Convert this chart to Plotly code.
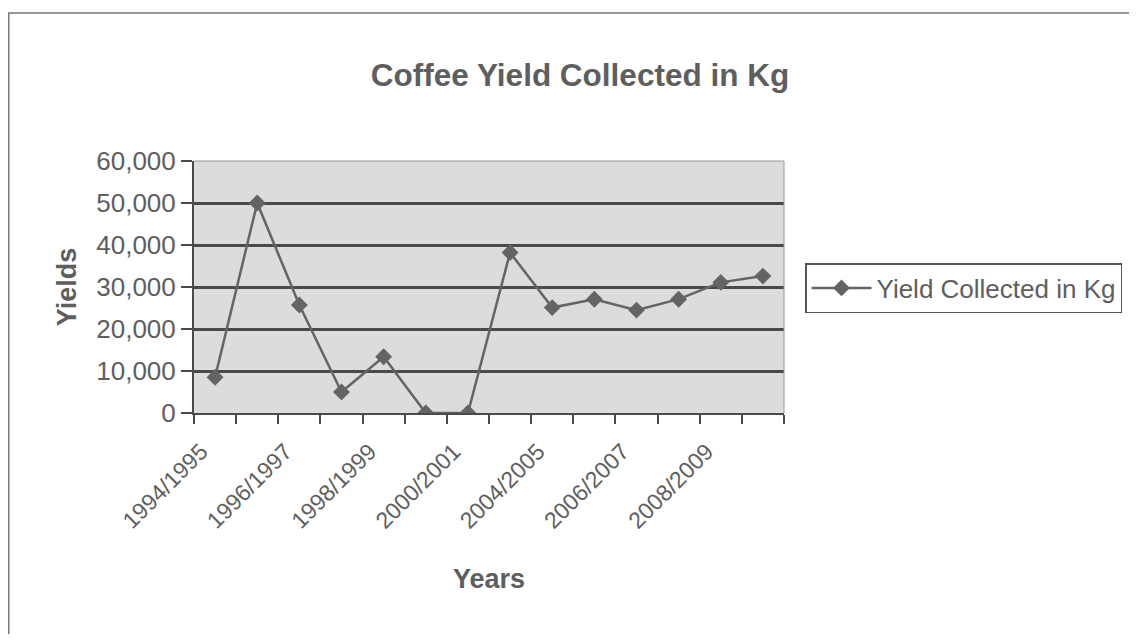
import plotly.graph_objects as go

categories = ["1994/1995", "1995/1996", "1996/1997", "1997/1998", "1998/1999",
              "1999/2000", "2000/2001", "2003/2004", "2004/2005", "2005/2006",
              "2006/2007", "2007/2008", "2008/2009", "2009/2010"]
yields = [8500, 50000, 25700, 5000, 13400, 0, 0, 38200, 25100, 27100,
          24500, 27100, 31100, 32600]
tick_labels = [c if i % 2 == 0 else "" for i, c in enumerate(categories)]
y_ticks = [0, 10000, 20000, 30000, 40000, 50000, 60000]

FONT = "Liberation Sans, Arial, sans-serif"
TXT = "#5e5e5e"
LINE = "#646464"
GRID = "#4a4a4a"

# page body has an 8px margin; work in reference pixel coords, shifted by 8
O = 8
W, H = 1121, 626
L, R, T, B = 194 - O, 784 - O, 161 - O, 413 - O


def px(x):
    return (x - O - L) / (R - L)


def py(y):
    return (B - (y - O)) / (B - T)


fig = go.Figure()
fig.add_trace(go.Scatter(
    x=categories, y=yields, mode="lines+markers",
    name="Yield Collected in Kg",
    line=dict(color=LINE, width=2.5),
    marker=dict(symbol="diamond", size=13, color=LINE),
))

fig.update_layout(
    width=W, height=H,
    margin=dict(l=L, r=W - R, t=T, b=H - B, autoexpand=False),
    paper_bgcolor="white",
    plot_bgcolor="#dcdcdc",
    font=dict(family=FONT, color=TXT),
    title=dict(text="<b>Coffee Yield Collected in Kg</b>", x=px(580), xref="paper",
               xanchor="center", y=1 - (75 - O) / H, yanchor="middle",
               font=dict(size=31.5, color=TXT, family=FONT)),
    showlegend=True,
    legend=dict(x=px(805), xanchor="left", y=py(288), yanchor="middle",
                bordercolor="#555555", borderwidth=1.5, bgcolor="white",
                font=dict(size=26, color=TXT, family=FONT),
                itemwidth=60, tracegroupgap=0),
    xaxis=dict(
        type="category", tickson="boundaries",
        tickvals=categories, ticktext=tick_labels,
        tickangle=-45, ticks="outside", ticklen=9, tickcolor=GRID, tickwidth=1.5,
        ticklabelstandoff=14, ticklabelshift=-14,
        showline=True, linecolor=GRID, linewidth=2,
        showgrid=False, mirror=False, automargin=False,
        tickfont=dict(size=23, color=TXT, family=FONT),
        title=dict(text="<b>Years</b>", font=dict(size=27, color=TXT, family=FONT),
                   standoff=36),
        range=[-0.5, len(categories) - 0.5],
    ),
    yaxis=dict(
        range=[0, 60000], tickvals=y_ticks, tickformat=",d",
        ticks="outside", ticklen=11, tickcolor=GRID, tickwidth=1.5,
        showline=True, linecolor=GRID, linewidth=2,
        showgrid=True, gridcolor=GRID, gridwidth=2.5,
        zeroline=False, automargin=False,
        tickfont=dict(size=26, color=TXT, family=FONT),
        title=dict(text="<b>Yields</b>", font=dict(size=27, color=TXT, family=FONT),
                   standoff=12),
    ),
    shapes=[
        dict(type="rect", xref="paper", yref="paper",
             x0=px(8.8), x1=px(1160), y0=py(700), y1=py(13),
             line=dict(color="#777777", width=1.5), fillcolor="rgba(0,0,0,0)",
             layer="below"),
        dict(type="line", xref="paper", yref="paper",
             x0=1, x1=1, y0=0, y1=1, line=dict(color="#9a9a9a", width=1)),
        dict(type="line", xref="paper", yref="paper",
             x0=0, x1=1, y0=1, y1=1, line=dict(color="#9a9a9a", width=1)),
    ],
)

fig.write_html("out.html")
